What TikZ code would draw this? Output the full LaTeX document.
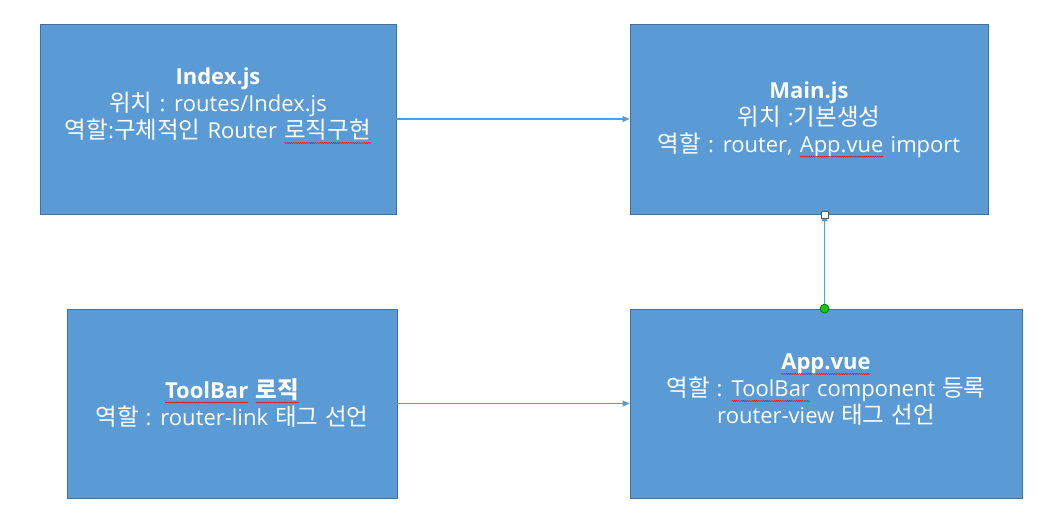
\documentclass[tikz,border=0pt]{standalone}
\usepackage{fontspec}
\setmainfont{Open Sans}
\newfontfamily\kr{Noto Sans CJK KR}
\usetikzlibrary{arrows.meta,calc,decorations.pathmorphing}
\definecolor{boxfill}{HTML}{5B9BD5}
\definecolor{boxline}{HTML}{41719C}
\definecolor{handlegreen}{HTML}{16C716}
\newcommand\K[1]{{\kr\fontsize{23.5}{27}\selectfont #1}}
\newcommand\boxfont{\fontsize{22}{27}\selectfont\spaceskip=7pt plus 1pt minus 1pt}
\newcommand\rwave[1]{\tikz[baseline=(W.base)]{\node[inner sep=0pt,outer sep=0pt,text=white] (W) {#1};\draw[red,line width=0.5pt,decorate,decoration={snake,amplitude=0.5pt,segment length=2.2pt}] ([yshift=-4pt]W.base west) -- ([yshift=-4pt]W.base east);}}
\tikzset{
  box/.style={draw=boxline, line width=0.8pt, fill=boxfill, inner sep=0pt},
  txt/.style={text=white, align=center, font=\boxfont, inner sep=0pt},
  conn/.style={draw=boxfill, line width=1.1pt, -{Triangle[length=7pt,width=6pt]}},
}
\begin{document}
\begin{tikzpicture}[x=1pt,y=-1pt]
\useasboundingbox (0,0) rectangle (1061,529);
% boxes
\node[box, minimum width=356pt, minimum height=190pt] (Index) at (218,119) {};
\node[box, minimum width=358pt, minimum height=190pt] (Main) at (809,119) {};
\node[box, minimum width=330pt, minimum height=189pt] (Tool) at (232,403.5) {};
\node[box, minimum width=392pt, minimum height=189pt] (App) at (826,403.5) {};
% texts
\node[txt] (tIndex) at (218,106) {\textbf{Index.js}\\\K{위치} : routes/Index.js\\\K{역할}:\K{구체적인} Router \rwave{\K{로직구현}}};
\node[txt] (tMain) at (809,120) {\textbf{Main.js}\\\K{위치} :\K{기본생성}\\\K{역할} : router, \rwave{App.vue} import};
\node[txt] (tTool) at (232,403) {\textbf{\rwave{ToolBar} \rwave{\K{로직}}}\\\K{역할} : router-link \K{태그} \K{선언}};
\node[txt] (tApp) at (826,390) {\textbf{\rwave{App.vue}}\\\K{역할} : \rwave{ToolBar} component \K{등록}\\router-view \K{태그} \K{선언}};
% connectors
\draw[conn] (Index.east) -- (Main.west);
\draw[conn] (Tool.east) -- (App.west);
\coordinate (aTop) at ($(App.north west)+(195,0)$);
\coordinate (mBot) at ($(Main.south west)+(195,0)$);
\draw[conn] (aTop) -- (mBot);
% selection handles
\node[draw=gray!70!black, fill=white, line width=0.6pt, minimum size=7pt, inner sep=0pt] (hsq) at (mBot) {};
\node[circle, draw=black!60!green, fill=handlegreen, line width=0.6pt, minimum size=9pt, inner sep=0pt] (hcir) at (aTop) {};
\end{tikzpicture}
\end{document}
